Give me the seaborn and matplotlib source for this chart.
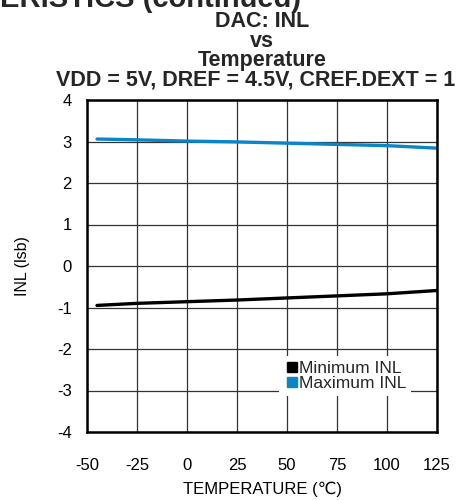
import numpy as np
import pandas as pd
import matplotlib
matplotlib.use("Agg")
import matplotlib.pyplot as plt
import seaborn as sns

temps = [-45, -25, 0, 25, 50, 75, 100, 125]
min_inl = [-0.95, -0.90, -0.86, -0.82, -0.77, -0.72, -0.67, -0.59]
max_inl = [3.06, 3.04, 3.01, 2.99, 2.96, 2.93, 2.90, 2.84]
series = ["Minimum INL", "Maximum INL"]
colors = ["#000000", "#0a86c6"]

df = pd.DataFrame({
    "temp": temps * 2,
    "inl": min_inl + max_inl,
    "series": [series[0]] * len(temps) + [series[1]] * len(temps),
})

sns.set_theme(style="white")
plt.rcParams["font.family"] = ["Liberation Sans", "DejaVu Sans"]
plt.rcParams["axes.unicode_minus"] = False

fig = plt.figure(figsize=(4.61, 5.0), dpi=100)
ax = fig.add_axes([0.1887, 0.136, 0.7593, 0.664])

sns.lineplot(data=df, x="temp", y="inl", hue="series", palette=colors,
             linewidth=2.4, ax=ax, legend=False)

ax.set_xlim(-50, 125)
ax.set_ylim(-4, 4)
ax.set_xticks(np.arange(-50, 126, 25))
ax.set_yticks(np.arange(-4, 5, 1))
ax.grid(True, color="#333333", linewidth=0.9)
ax.tick_params(axis="both", length=0, labelsize=12, colors="black")
ax.tick_params(axis="x", pad=19)
ax.tick_params(axis="y", pad=11)
for s in ax.spines.values():
    s.set_color("black")
    s.set_linewidth(1.8)

ax.set_xlabel("TEMPERATURE (\u2103)", fontsize=12, color="black", labelpad=6)
ax.set_ylabel("INL (lsb)", fontsize=11.5, color="black", labelpad=19)

handles = [plt.Line2D([], [], marker="s", linestyle="none", color=c, markersize=7)
           for c in colors]
leg = ax.legend(handles, series, loc="upper left", bbox_to_anchor=(0.525, 0.255),
                frameon=True, fontsize=12.5, handletextpad=0.0, handlelength=0.8,
                borderpad=0.3, labelspacing=-0.05)
leg.get_frame().set_facecolor("white")
leg.get_frame().set_edgecolor("none")
leg.get_frame().set_alpha(1)

title_lines = ["DAC: INL", "vs", "Temperature"]
for i, t in enumerate(title_lines):
    fig.text(0.568, 1 - (27 + 19.7 * i) / 500, t, ha="center", va="baseline",
             fontsize=15.5, fontweight="bold")
fig.text(0.121, 1 - 86 / 500, "VDD = 5V, DREF = 4.5V, CREF.DEXT = 1", ha="left",
         va="baseline", fontsize=15.5, fontweight="bold")
fig.text(0.0, 1 - 7 / 500, "ERISTICS (continued)", ha="left", va="baseline",
         fontsize=21, fontweight="bold")

fig.savefig("out.png", dpi=100)
